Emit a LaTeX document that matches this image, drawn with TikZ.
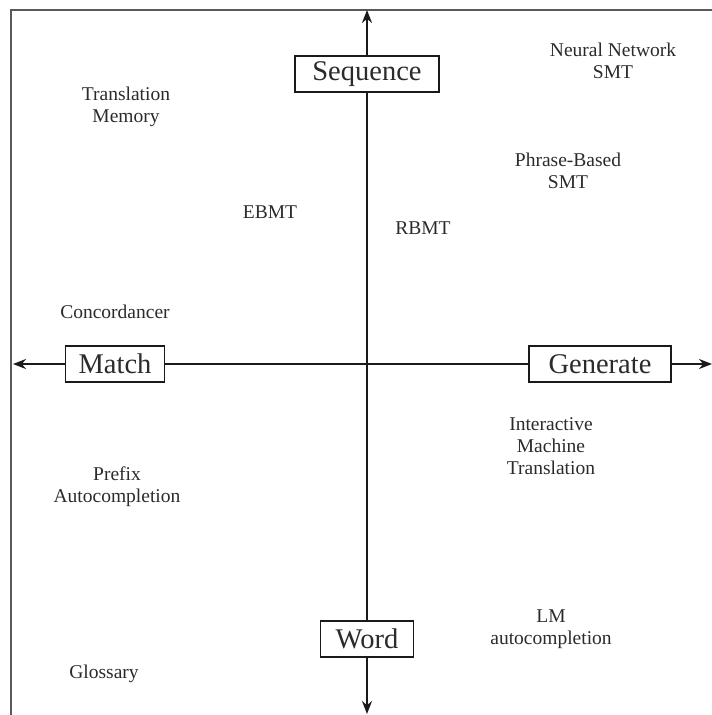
\documentclass[tikz,border=0pt]{standalone}
\usepackage{fontspec}
\setmainfont{Liberation Serif}
\usetikzlibrary{arrows.meta}
\definecolor{ink}{HTML}{2B2B2B}
\definecolor{axisink}{HTML}{1A1A1A}
\begin{document}
\begin{tikzpicture}[x=1pt,y=-1pt,
  lbl/.style={text=ink,align=center,font=\fontsize{19.5}{22}\selectfont,inner sep=0pt},
  pole/.style={draw=axisink,line width=1.6pt,fill=white,text=ink,
    font=\fontsize{28.5}{30}\selectfont,minimum height=36pt,inner sep=0pt},
  axisline/.style={draw=axisink,line width=2.6pt},
  tip/.style={-{Stealth[length=13pt,width=10pt]}}]
\useasboundingbox (0,0) rectangle (712,715);
% frame on the top and left
\draw[line width=2.2pt,draw=black!65] (712,10) -- (11,10) -- (11,715);
% the four poles
\node[pole,minimum width=144pt] (seq) at (367,74) {Sequence};
\node[pole,minimum width=99pt] (match) at (115,364) {Match};
\node[pole,minimum width=142pt] (gen) at (600,364) {Generate};
\node[pole,minimum width=93pt] (word) at (367,639) {Word};
\coordinate (top) at (367,10);
\coordinate (bottom) at (367,714);
\coordinate (left) at (13,364);
\coordinate (right) at (712,364);
% axes
\draw[axisline,tip] (seq) -- (top);
\draw[axisline] (seq) -- (word);
\draw[axisline,tip] (word) -- (bottom);
\draw[axisline,tip] (match) -- (left);
\draw[axisline] (match) -- (gen);
\draw[axisline,tip] (gen) -- (right);
% placed systems
\node[lbl] (nn) at (613,61) {Neural Network\\SMT};
\node[lbl] (tm) at (126,107) {Translation\\Memory};
\node[lbl] (pb) at (568,171) {Phrase-Based\\SMT};
\node[lbl] (ebmt) at (270,212) {EBMT};
\node[lbl] (rbmt) at (423,228) {RBMT};
\node[lbl] (conc) at (115,312) {Concordancer};
\node[lbl] (imt) at (551,446) {Interactive\\Machine\\Translation};
\node[lbl] (prefix) at (117,487) {Prefix\\Autocompletion};
\node[lbl] (lm) at (551,629) {LM\\autocompletion};
\node[lbl] (gloss) at (104,674) {Glossary};
\end{tikzpicture}
\end{document}
